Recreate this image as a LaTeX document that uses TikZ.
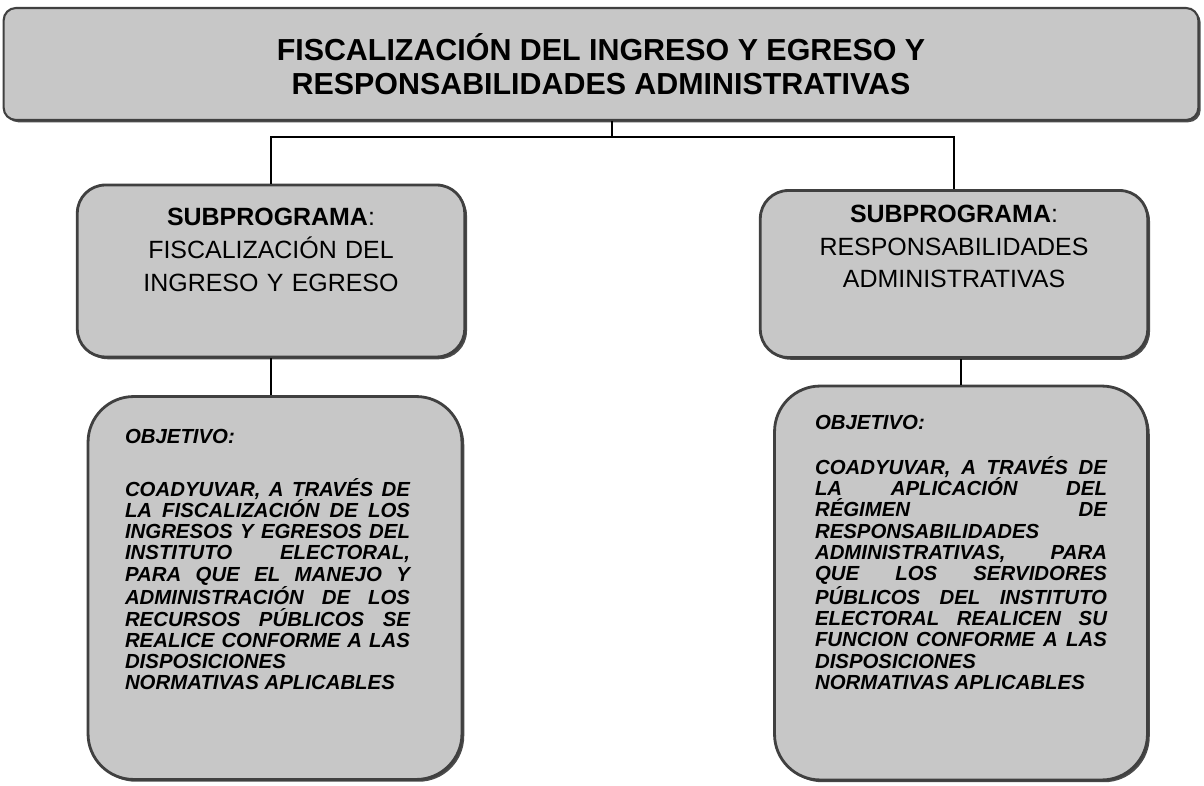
\documentclass[tikz,border=0pt]{standalone}
\usepackage{fontspec}
\setmainfont{Liberation Sans}
\usetikzlibrary{shadows}
\begin{document}
\begin{tikzpicture}[x=0.02cm,y=-0.02cm,
  box/.style={draw=black!75,line width=1.6pt,fill=black!22,
    drop shadow={shadow xshift=1.3pt,shadow yshift=-1.3pt,fill=black!70,opacity=1}},
  sub/.style={box,rounded corners=16pt,inner sep=0pt,text width=7.75cm,align=center,
    font=\fontsize{14.2}{18.7}\selectfont},
  obj/.style={box,rounded corners=26pt,inner sep=0pt,align=justify,
    font=\fontsize{11.6}{12.1}\selectfont\bfseries\itshape,
    execute at begin node={\parindent=0pt \tolerance=10000 \hbadness=10000 \hfuzz=5pt \hyphenpenalty=10000 }}]
  \path[use as bounding box,fill=white] (0,0) rectangle (1204,786);
  \node[box,rounded corners=7pt,line width=1.2pt,minimum width=23.9cm,minimum height=2.24cm,
    align=center,font=\fontsize{17.3}{19}\selectfont\bfseries] (t) at (601,64)
    {FISCALIZACIÓN DEL INGRESO Y EGRESO Y\\RESPONSABILIDADES ADMINISTRATIVAS};
  \node[sub,minimum height=3.44cm] (a) at (271,271)
    {\textbf{SUBPROGRAMA}:\\FISCALIZACIÓN DEL\\INGRESO Y EGRESO\par\vspace*{5.5pt}\leavevmode};
  \node[sub,minimum height=3.34cm] (b) at (954,274)
    {\textbf{SUBPROGRAMA}:\\RESPONSABILIDADES\\ADMINISTRATIVAS\par\vspace*{12.8pt}\leavevmode};
  \node[obj,text width=6cm,minimum width=7.48cm,minimum height=7.66cm] (oa) at (275,588)
    {\rightskip=0.3cm
     OBJETIVO:\par\vspace*{18pt}
     COADYUVAR, A TRAVÉS DE\linebreak LA FISCALIZACIÓN DE LOS\linebreak
     INGRESOS Y EGRESOS DEL\linebreak INSTITUTO ELECTORAL,\linebreak
     PARA QUE EL MANEJO Y\linebreak ADMINISTRACIÓN DE LOS\linebreak
     RECURSOS PÚBLICOS SE\linebreak REALICE CONFORME A LAS\linebreak
     DISPOSICIONES\newline NORMATIVAS APLICABLES\par\vspace*{20.5pt}\leavevmode};
  \node[obj,text width=5.84cm,minimum width=7.46cm,minimum height=7.88cm] (ob) at (961,583)
    {OBJETIVO:\par\vspace*{13.5pt}
     COADYUVAR, A TRAVÉS DE\linebreak LA APLICACIÓN DEL\linebreak
     RÉGIMEN DE\linebreak RESPONSABILIDADES\newline
     ADMINISTRATIVAS, PARA\linebreak QUE LOS SERVIDORES\linebreak
     PÚBLICOS DEL INSTITUTO\linebreak ELECTORAL REALICEN SU\linebreak
     FUNCION CONFORME A LAS\linebreak DISPOSICIONES\newline
     NORMATIVAS APLICABLES\par\vspace*{23pt}\leavevmode};
  \coordinate (j) at (612,137);
  \draw[line width=0.6pt] (t.south -| j) -- (j);
  \draw[line width=0.6pt] (a.north) |- (j) -| (b.north);
  \draw[line width=0.6pt] (a.south) -- (a.south |- oa.north);
  \draw[line width=0.6pt] (ob.north) -- (ob.north |- b.south);
\end{tikzpicture}
\end{document}
